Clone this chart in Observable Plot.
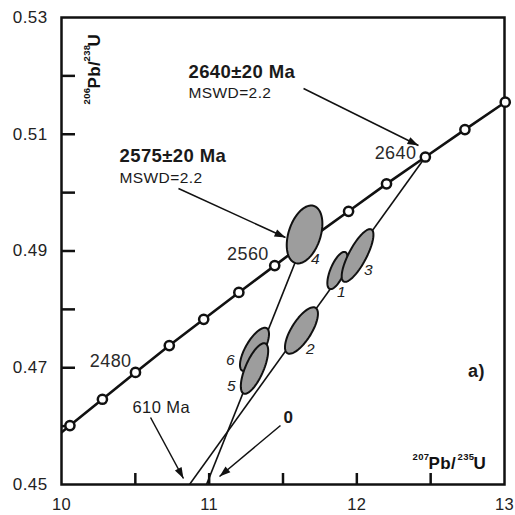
<!DOCTYPE html>
<html><head><meta charset="utf-8">
<script src="https://cdn.jsdelivr.net/npm/d3@7"></script>
<script src="https://cdn.jsdelivr.net/npm/@observablehq/plot@0.6"></script>
<style>
html,body{margin:0;padding:0;background:#fff;}
#chart svg{display:block;}
</style></head><body><div id="chart"></div>
<script>
// ---- Concordia: ages (Ma) and their 207Pb/235U, 206Pb/238U ratios
const concordiaAges = [2420, 2440, 2460, 2480, 2500, 2520, 2540, 2560, 2580, 2600, 2620, 2640, 2660, 2680];
const concordiaX = [9.841, 10.057, 10.277, 10.501, 10.730, 10.963, 11.201, 11.444, 11.691, 11.944, 12.201, 12.464, 12.732, 13.005];
const concordiaY = [0.4556, 0.4601, 0.4646, 0.4692, 0.4738, 0.4783, 0.4829, 0.4875, 0.4922, 0.4968, 0.5015, 0.5061, 0.5108, 0.5155];
const markedAges = [2440, 2460, 2480, 2500, 2520, 2540, 2560, 2580, 2600, 2620, 2640, 2660, 2680];
const labeledAges = [2480, 2560, 2640];

// ---- Zircon spot analyses (error ellipses): centre, half-widths, correlation
const spotIds = ["1", "2", "3", "4", "6", "5"];
const spotX = [11.869, 11.625, 12.005, 11.646, 11.307, 11.307];
const spotSX = [0.0686, 0.1117, 0.1075, 0.1207, 0.0983, 0.0927];
const spotY = [0.48666, 0.47638, 0.48923, 0.49283, 0.47313, 0.46987];
const spotSY = [0.00319, 0.00398, 0.00452, 0.00496, 0.00372, 0.00433];
const spotRho = [0.67, 0.72, 0.785, 0.37, 0.71, 0.70];

// ---- Discordia chords: upper intercept and point where they leave the plot
const discordiaNames = ["2640 Ma", "2575 Ma"];
const discordiaUpperX = [12.464, 11.629];
const discordiaUpperY = [0.5061, 0.4910];
const discordiaLowerX = [10.867, 10.982];
const discordiaLowerY = [0.45, 0.45];

// ---- Annotations
const noteLabels = ["2640±20 Ma", "MSWD=2.2", "2575±20 Ma", "MSWD=2.2", "610 Ma", "0", "a)"];
const noteX = [10.860, 10.860, 10.393, 10.393, 10.481, 11.537, 12.810];
const noteY = [0.52066, 0.51707, 0.50627, 0.50242, 0.46310, 0.46139, 0.46936];
const arrowX1 = [11.639, 10.792, 10.603, 11.483];
const arrowY1 = [0.51784, 0.50071, 0.46148, 0.46011];
const arrowX2 = [12.4175, 11.517, 10.826, 11.070];
const arrowY2 = [0.50807, 0.49231, 0.45103, 0.45137];

// ---- Axis ticks
const xTickMarks = [10.5, 11, 11.5, 12, 12.5];
const xTickLabels = [10, 11, 12, 13];
const yTickMarks = [0.46, 0.47, 0.48, 0.49, 0.50, 0.51, 0.52];
const yTickLabels = [0.45, 0.47, 0.49, 0.51, 0.53];

// ---- layout (pixels) kept apart from the data
const W = 515, H = 515, mTop = 17, mRight = 11, mBottom = 31, mLeft = 61;
const frameW = W - mLeft - mRight, frameH = H - mTop - mBottom;
const yTickLen = 14, xTickLen = 11;
const spotLabelOffset = {"1": [4, 22], "2": [9, 19], "3": [11, 15], "4": [11, 25], "6": [-24, 11], "5": [-23, 18]};
const ageLabelOffset = {2480: [-4, -11.5], 2560: [-6, -11], 2640: [-9, -4]};
const noteStyle = [
  {w: "bold", s: 18.5, a: "start"}, {w: "normal", s: 15.5, a: "start"},
  {w: "bold", s: 18.5, a: "start"}, {w: "normal", s: 15.5, a: "start"},
  {w: "normal", s: 16.5, a: "start"}, {w: "bold", s: 17, a: "middle"},
  {w: "bold", s: 18, a: "middle"}
];

// ---- tables built from the arrays
const concordia = concordiaAges.map((age, i) => ({age, x: concordiaX[i], y: concordiaY[i]}));
const marked = concordia.filter(d => markedAges.includes(d.age));
const spots = spotIds.flatMap((id, i) => d3.range(72).map(k => {
  const t = 2 * Math.PI * k / 72;
  return {id, x: spotX[i] + spotSX[i] * Math.cos(t),
    y: spotY[i] + spotSY[i] * (spotRho[i] * Math.cos(t) + Math.sqrt(1 - spotRho[i] ** 2) * Math.sin(t))};
}));
const spotCentres = spotIds.map((id, i) => ({id, x: spotX[i], y: spotY[i]}));
const discordia = discordiaNames.map((n, i) => ({n, x1: discordiaUpperX[i], y1: discordiaUpperY[i], x2: discordiaLowerX[i], y2: discordiaLowerY[i]}));
const arrows = arrowX1.map((x1, i) => ({x1, y1: arrowY1[i], x2: arrowX2[i], y2: arrowY2[i]}));

function filledArrow(color) {
  const ns = "http://www.w3.org/2000/svg";
  const m = document.createElementNS(ns, "marker");
  m.setAttribute("viewBox", "-12 -5 13 10");
  m.setAttribute("markerWidth", 13);
  m.setAttribute("markerHeight", 10);
  m.setAttribute("markerUnits", "userSpaceOnUse");
  m.setAttribute("refX", 0);
  m.setAttribute("refY", 0);
  m.setAttribute("orient", "auto");
  const p = document.createElementNS(ns, "path");
  p.setAttribute("d", "M0,0L-11,-3.8L-11,3.8Z");
  p.setAttribute("fill", color);
  p.setAttribute("stroke", "none");
  m.appendChild(p);
  return m;
}
let arrowMark;
try {
  arrowMark = Plot.link(arrows, {x1: "x1", y1: "y1", x2: "x2", y2: "y2", stroke: "#111", strokeWidth: 1.5, markerEnd: filledArrow});
} catch (e) {
  arrowMark = Plot.arrow(arrows, {x1: "x1", y1: "y1", x2: "x2", y2: "y2", stroke: "#111", strokeWidth: 1.5, headLength: 10});
}

const ink = "#111";
const marks = [
  Plot.frame({stroke: ink, strokeWidth: 2.5}),
  // inward tick marks: short rules starting at the left / bottom frame edge
  Plot.ruleY(yTickMarks, {y: d => d, insetRight: frameW - yTickLen, stroke: ink, strokeWidth: 2.5}),
  Plot.ruleX(xTickMarks, {x: d => d, insetTop: frameH - xTickLen, stroke: ink, strokeWidth: 2.5}),
  // tick labels
  Plot.axisY(yTickLabels, {anchor: "left", tickSize: 0, tickPadding: 14, fontSize: 17, fill: "#222", tickFormat: d => d.toFixed(2), label: null}),
  Plot.axisX(xTickLabels, {anchor: "bottom", tickSize: 0, tickPadding: 14, fontSize: 16.5, fill: "#222", tickFormat: d => String(d), label: null}),
  Plot.line(concordia, {x: "x", y: "y", stroke: ink, strokeWidth: 2.6, clip: true}),
  Plot.link(discordia, {x1: "x1", y1: "y1", x2: "x2", y2: "y2", stroke: ink, strokeWidth: 1.6, clip: true}),
  Plot.dot(marked, {x: "x", y: "y", r: 4.6, fill: "white", stroke: ink, strokeWidth: 2.5}),
  Plot.line(spots, {x: "x", y: "y", z: "id", curve: "linear-closed", fill: "#9d9d9d", stroke: ink, strokeWidth: 2}),
  ...spotCentres.map(d => Plot.text([d], {x: "x", y: "y", text: "id", dx: spotLabelOffset[d.id][0], dy: spotLabelOffset[d.id][1], fontSize: 15.5, fontStyle: "italic", fill: "#222"})),
  ...concordia.filter(d => labeledAges.includes(d.age)).map(d => Plot.text([d], {x: "x", y: "y", text: d => String(d.age), textAnchor: "end", dx: ageLabelOffset[d.age][0], dy: ageLabelOffset[d.age][1], fontSize: 18, fill: "#2a2a2a"})),
  ...noteLabels.map((t, i) => Plot.text([i], {x: j => noteX[j], y: j => noteY[j], text: j => noteLabels[j], textAnchor: noteStyle[i].a, fontWeight: noteStyle[i].w, fontSize: noteStyle[i].s, fill: "#1a1a1a"})),
  arrowMark,
  // x-axis title 207Pb/235U
  Plot.text(["207"], {text: d => d, frameAnchor: "bottom-right", dx: -92, dy: -25, textAnchor: "start", lineAnchor: "bottom", fontSize: 9.5, fontWeight: "bold", fill: ink}),
  Plot.text(["Pb/"], {text: d => d, frameAnchor: "bottom-right", dx: -76, dy: -16, textAnchor: "start", lineAnchor: "bottom", fontSize: 17, fontWeight: "bold", fill: ink}),
  Plot.text(["235"], {text: d => d, frameAnchor: "bottom-right", dx: -47, dy: -25, textAnchor: "start", lineAnchor: "bottom", fontSize: 9.5, fontWeight: "bold", fill: ink}),
  Plot.text(["U"], {text: d => d, frameAnchor: "bottom-right", dx: -31, dy: -16, textAnchor: "start", lineAnchor: "bottom", fontSize: 17, fontWeight: "bold", fill: ink}),
  // y-axis title 206Pb/238U
  Plot.text(["206"], {text: d => d, frameAnchor: "top-left", dx: 28, dy: 87, rotate: -90, textAnchor: "start", lineAnchor: "bottom", fontSize: 9.5, fontWeight: "bold", fill: ink}),
  Plot.text(["Pb/"], {text: d => d, frameAnchor: "top-left", dx: 38, dy: 71, rotate: -90, textAnchor: "start", lineAnchor: "bottom", fontSize: 17, fontWeight: "bold", fill: ink}),
  Plot.text(["238"], {text: d => d, frameAnchor: "top-left", dx: 28, dy: 44, rotate: -90, textAnchor: "start", lineAnchor: "bottom", fontSize: 9.5, fontWeight: "bold", fill: ink}),
  Plot.text(["U"], {text: d => d, frameAnchor: "top-left", dx: 38, dy: 29, rotate: -90, textAnchor: "start", lineAnchor: "bottom", fontSize: 17, fontWeight: "bold", fill: ink})
];

const chart = Plot.plot({
  width: W, height: H,
  marginTop: mTop, marginRight: mRight, marginBottom: mBottom, marginLeft: mLeft,
  style: {fontFamily: "'Liberation Sans', Arial, sans-serif", fontSize: "17px", color: "#1a1a1a", background: "#fff", letterSpacing: "0.4px"},
  x: {domain: [10, 13], axis: null, label: null},
  y: {domain: [0.45, 0.53], axis: null, label: null},
  marks
});
document.getElementById("chart").appendChild(chart);
</script></body></html>
